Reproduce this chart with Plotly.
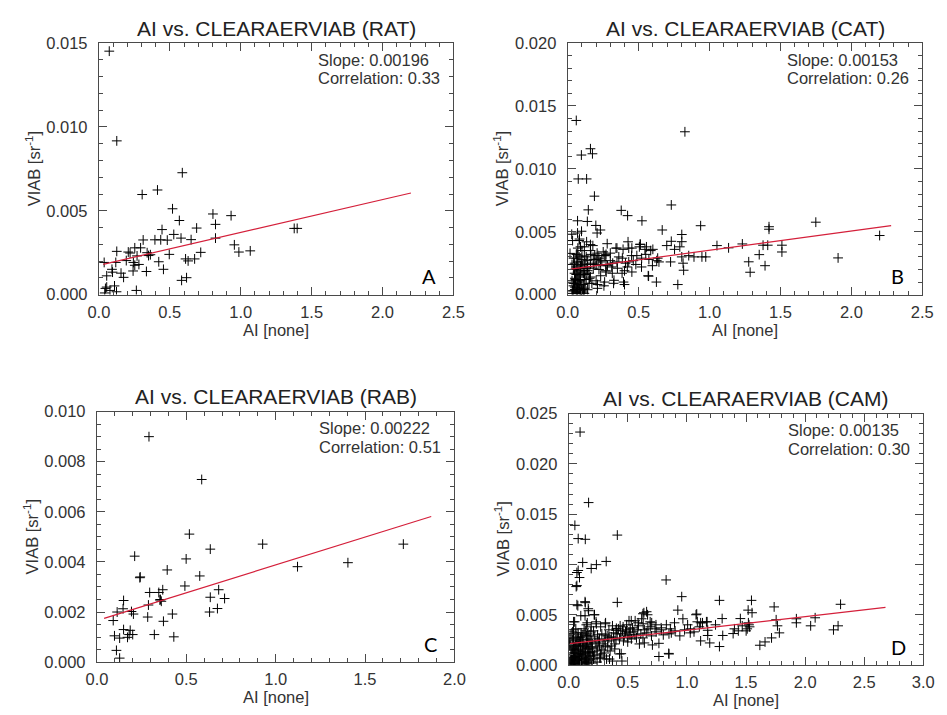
import plotly.graph_objects as go

# ---------------------------------------------------------------------------
# RAT: aerosol index vs. VIAB
rat_ai = [0.073, 0.126, 0.588, 0.413, 0.305, 0.519, 0.804, 0.932, 0.567, 0.822,
          0.689, 0.445, 0.528, 0.579, 0.822, 0.312, 0.395, 0.436, 0.482, 0.650,
          0.253, 0.294, 0.126, 0.220, 0.340, 0.363, 0.269, 0.496, 0.718, 0.955,
          0.987, 1.067, 0.193, 0.119, 0.037, 0.243, 0.282, 0.253, 0.422, 0.611,
          0.629, 0.675, 0.455, 0.092, 0.096, 0.156, 0.174, 0.055, 0.241, 0.335,
          0.583, 0.618, 0.055, 0.110, 0.078, 0.124, 0.264, 0.041, 1.377, 1.398,
          0.046, 0.350, 0.207]
rat_viab = [0.01452, 0.00917, 0.00727, 0.00624, 0.00597, 0.00512, 0.00481, 0.00471, 0.00442, 0.00419,
            0.00397, 0.00388, 0.00359, 0.00337, 0.00337, 0.00326, 0.00327, 0.00327, 0.00325, 0.00328,
            0.00279, 0.00279, 0.00258, 0.00248, 0.00250, 0.00238, 0.00231, 0.00240, 0.00252, 0.00297,
            0.00254, 0.00261, 0.00203, 0.00192, 0.00192, 0.00192, 0.00180, 0.00175, 0.00196, 0.00213,
            0.00201, 0.00213, 0.00151, 0.00151, 0.00134, 0.00128, 0.00103, 0.00112, 0.00141, 0.00138,
            0.00085, 0.00101, 0.00045, 0.00052, 0.00025, 0.00017, 0.00025, 0.00010, 0.00395, 0.00395,
            0.00037, 0.00233, 0.00254]

# CAT
cat_ai = [0.060, 0.826, 0.160, 0.174, 0.096, 0.074, 0.133, 0.188, 0.730, 0.145,
          0.377, 0.422, 0.069, 0.138, 0.198, 0.523, 0.230, 0.666, 0.097, 0.069,
          0.028, 0.207, 0.804, 0.804, 0.083, 0.133, 0.160, 0.090, 0.425, 0.510,
          0.730, 0.505, 0.430, 0.340, 0.390, 0.555, 0.600, 0.698, 0.753, 0.790,
          0.270, 0.207, 0.064, 0.257, 0.487, 0.550, 0.634, 0.643, 0.725, 0.804,
          0.853, 0.890, 0.813, 0.817, 0.041, 0.385, 0.317, 0.430, 0.597, 0.400,
          0.271, 0.570, 0.326, 0.400, 0.625, 0.776, 0.210, 0.260,
          0.937, 0.946, 0.973, 1.052, 1.134, 1.231, 1.276, 1.286, 1.350, 1.377,
          1.410, 1.391, 1.419, 1.419, 1.510, 1.510, 1.749, 1.906, 2.199,
          0.278, 0.347, 0.452, 0.512, 0.544, 0.585, 0.071, 0.117, 0.177, 0.034,
          0.080, 0.016, 0.071, 0.117, 0.163, 0.213, 0.264, 0.300, 0.347, 0.407,
          0.462, 0.521, 0.572, 0.627, 0.048, 0.094, 0.140, 0.186, 0.232, 0.268,
          0.314, 0.383, 0.452, 0.567, 0.048, 0.080, 0.117, 0.154, 0.200, 0.232,
          0.393, 0.323, 0.255, 0.209, 0.140, 0.094, 0.048, 0.071, 0.117, 0.034,
          0.050, 0.060, 0.065, 0.080, 0.085, 0.100, 0.055, 0.070, 0.090, 0.110,
          0.040, 0.060, 0.080, 0.100, 0.120, 0.140, 0.160, 0.180, 0.200, 0.240,
          0.220, 0.150, 0.130, 0.170, 0.120, 0.060, 0.030, 0.100, 0.160, 0.250,
          0.300, 0.360, 0.450, 0.480, 0.520, 0.350, 0.280, 0.420,
          0.03, 0.04, 0.05, 0.06, 0.07, 0.08, 0.09, 0.10, 0.11, 0.12,
          0.04, 0.05, 0.06, 0.07, 0.08, 0.09, 0.10,
          0.03, 0.05, 0.07, 0.09, 0.11, 0.13,
          0.06, 0.08, 0.10, 0.12, 0.14, 0.16, 0.18, 0.20, 0.22,
          0.19, 0.23, 0.27, 0.31, 0.15, 0.11, 0.04, 0.13]
cat_viab = [0.01385, 0.01295, 0.0116, 0.0112, 0.0111, 0.0092, 0.0092, 0.00783, 0.00713, 0.00674,
            0.0067, 0.00628, 0.00587, 0.00582, 0.0055, 0.00587, 0.00514, 0.00514, 0.00504, 0.0049,
            0.0048, 0.0049, 0.00478, 0.00421, 0.00442, 0.0042, 0.00398, 0.0038, 0.0042, 0.0040,
            0.00424, 0.0038, 0.0037, 0.0037, 0.0036, 0.0038, 0.0036, 0.0039, 0.0036, 0.0038,
            0.0032, 0.0033, 0.00323, 0.0031, 0.0031, 0.0032, 0.0029, 0.0026, 0.0026, 0.0030,
            0.0031, 0.0030, 0.0025, 0.00194, 0.0029, 0.0029, 0.0025, 0.0026, 0.0023, 0.0019,
            0.0018, 0.00147, 0.00114, 0.0008, 0.0010, 0.0008, 0.0008, 0.0010,
            0.00548, 0.0030, 0.0030, 0.0039, 0.00372, 0.00403, 0.00261, 0.00178, 0.00318, 0.00393,
            0.00393, 0.0023, 0.0054, 0.0052, 0.00393, 0.00339, 0.00576, 0.00292, 0.0047,
            0.00405, 0.0037, 0.0037, 0.0040, 0.0036, 0.0035, 0.0037, 0.0038, 0.0039, 0.0043,
            0.0043, 0.00328, 0.00308, 0.00308, 0.0032, 0.0031, 0.0031, 0.0027, 0.0026, 0.0025,
            0.0027, 0.0029, 0.0028, 0.0027, 0.0025, 0.0026, 0.0022, 0.0025, 0.0023, 0.0019,
            0.0017, 0.0017, 0.0018, 0.0015, 0.0017, 0.0014, 0.0016, 0.0013, 0.0011, 0.0015,
            0.0010, 0.0009, 0.0007, 0.0005, 0.00039, 0.0007, 0.0009, 0.0002, 0.0001, 0.0003,
            0.0004, 0.0006, 0.0001, 0.0005, 0.0002, 0.0003, 0.0012, 0.0010, 0.0011, 0.0008,
            0.0020, 0.0022, 0.0019, 0.0021, 0.0019, 0.0027, 0.0024, 0.0021, 0.0028, 0.0027,
            0.0020, 0.0017, 0.0012, 0.0009, 0.0005, 0.0029, 0.0024, 0.0035, 0.0035, 0.0034,
            0.0033, 0.0030, 0.0031, 0.0024, 0.0022, 0.0021, 0.0023, 0.0022,
            0.0001, 0.0003, 0.0006, 0.0002, 0.0004, 0.0008, 0.0001, 0.0006, 0.0002, 0.0012,
            0.0009, 0.0013, 0.0016, 0.0018, 0.0011, 0.0015, 0.0024,
            0.0011, 0.0020, 0.0026, 0.0023, 0.0017, 0.0021,
            0.0032, 0.0030, 0.0028, 0.0025, 0.0019, 0.0014, 0.0028, 0.0024, 0.0029,
            0.0031, 0.0026, 0.0024, 0.0022, 0.0009, 0.0004, 0.0007, 0.0030]

# RAB
rab_ai = [0.291, 0.586, 0.517, 0.634, 0.211, 0.499, 0.393, 0.240, 0.242, 0.575,
          0.492, 0.295, 0.346, 0.368, 0.681, 0.634, 0.714, 0.149, 0.355, 0.360,
          0.352, 0.288, 0.146, 0.113, 0.193, 0.204, 0.422, 0.630, 0.674, 0.284,
          0.091, 0.372, 0.149, 0.186, 0.098, 0.127, 0.171, 0.180, 0.200, 0.321,
          0.430, 0.109, 0.127, 0.927, 1.122, 1.404, 1.714]
rab_viab = [0.0090, 0.00729, 0.00511, 0.00451, 0.00423, 0.00412, 0.00368, 0.00337, 0.00340, 0.00344,
            0.00304, 0.00278, 0.00278, 0.00289, 0.00289, 0.00259, 0.00254, 0.00246, 0.00250, 0.00243,
            0.00248, 0.00228, 0.00213, 0.00200, 0.00202, 0.00192, 0.00192, 0.00200, 0.00214, 0.00180,
            0.00166, 0.00163, 0.00130, 0.00127, 0.00105, 0.00096, 0.00099, 0.00110, 0.00110, 0.00110,
            0.00101, 0.00047, 0.00016, 0.00471, 0.00381, 0.00397, 0.00471]

# CAM
cam_ai = [0.096, 0.168, 0.052, 0.411, 0.080, 0.140, 0.317, 0.118, 0.234, 0.190,
          0.080, 0.069, 0.091, 0.069, 0.824, 0.063, 0.956, 0.411, 0.069, 0.140,
          0.102, 0.168, 0.218, 0.923, 0.659, 0.636, 1.077, 0.966, 0.041, 0.157,
          0.234, 0.312, 0.510, 0.587, 0.702, 0.895, 1.006, 1.116, 1.171, 0.400,
          0.455, 0.510, 0.785, 0.868, 1.028, 1.116, 0.763, 0.708, 0.598, 0.499,
          0.444, 0.345, 0.763, 0.846, 0.262,
          1.083, 1.088, 1.105, 1.165, 1.132, 1.176, 1.176, 1.193, 1.242, 1.275,
          1.298, 1.303, 1.275, 1.391, 1.402, 1.435, 1.452, 1.468, 1.501, 1.510,
          1.520, 1.530, 1.525, 1.518, 1.546, 1.551, 1.617, 1.661, 1.716, 1.738,
          1.755, 1.766, 1.782, 1.926, 1.926, 2.047, 2.085, 2.240, 2.279, 2.300,
          0.077, 0.138, 0.165, 0.050, 0.138, 0.215, 0.231, 0.149, 0.309, 0.403,
          0.435, 0.490, 0.529, 0.562, 0.617, 0.628, 0.667, 0.689, 0.738, 0.782,
          0.826, 0.848, 0.848, 0.033, 0.105, 0.187, 0.243, 0.325, 0.380, 0.463,
          0.518, 0.573, 0.656, 0.628,
          0.03, 0.07, 0.12, 0.19, 0.24, 0.29, 0.35, 0.43, 0.07, 0.12,
          0.17, 0.03, 0.08, 0.13, 0.21, 0.27, 0.32, 0.37, 0.45, 0.02,
          0.04, 0.05, 0.06, 0.09, 0.10, 0.11, 0.14, 0.15, 0.16, 0.18,
          0.20, 0.22, 0.23, 0.26, 0.28, 0.30, 0.33, 0.36, 0.39, 0.41,
          0.47, 0.53, 0.55, 0.58, 0.61, 0.64, 0.67, 0.70, 0.74, 0.80,
          0.86, 0.90, 0.94, 0.98, 1.03, 1.06, 0.01, 0.04, 0.06, 0.08,
          0.11, 0.13, 0.17, 0.19, 0.21, 0.27, 0.34, 0.37, 0.42, 0.46,
          0.49, 0.54, 0.59, 0.63, 0.03, 0.05, 0.07, 0.09, 0.10, 0.12,
          0.14, 0.02, 0.01, 0.04, 0.06, 0.08, 0.15, 0.18, 0.20, 0.24,
          0.26, 0.30, 0.31, 0.39, 0.43, 0.50, 0.56, 0.64, 0.69, 0.73,
          0.01, 0.02, 0.03, 0.04, 0.05, 0.06, 0.07, 0.08, 0.09, 0.10,
          0.11, 0.12, 0.13, 0.14, 0.15, 0.16, 0.17, 0.18, 0.19, 0.20,
          0.01, 0.02, 0.03, 0.04, 0.05, 0.06, 0.07, 0.08, 0.09, 0.10,
          0.11, 0.12, 0.13, 0.14, 0.15, 0.16, 0.17, 0.18, 0.19, 0.20,
          0.02, 0.04, 0.06, 0.08, 0.10, 0.12, 0.14, 0.16, 0.22, 0.25,
          0.28, 0.31, 0.34, 0.02, 0.05, 0.08, 0.11, 0.14, 0.17, 0.21,
          0.24, 0.27, 0.30, 0.33, 0.36, 0.38, 0.40, 0.44, 0.48, 0.52]
cam_viab = [0.02316, 0.01615, 0.01389, 0.01292, 0.01257, 0.0125, 0.0103, 0.0102, 0.00998, 0.0096,
            0.0094, 0.0092, 0.0087, 0.0079, 0.00846, 0.0078, 0.0068, 0.00623, 0.0060, 0.0062,
            0.0049, 0.0054, 0.0050, 0.00546, 0.0053, 0.0052, 0.0050, 0.0046, 0.0043, 0.0042,
            0.0041, 0.0042, 0.0044, 0.0042, 0.0042, 0.0042, 0.0040, 0.0042, 0.0043, 0.00346,
            0.0034, 0.0032, 0.0035, 0.0032, 0.0032, 0.0024, 0.00216, 0.0020, 0.0021, 0.0023,
            0.00113, 0.0006, 0.00085, 0.00116, 0.0007,
            0.00507, 0.0043, 0.0038, 0.0043, 0.0042, 0.00346, 0.00294, 0.0022, 0.0040, 0.00643,
            0.00462, 0.00294, 0.00184, 0.00313, 0.0036, 0.0034, 0.00462, 0.0039, 0.0034, 0.0036,
            0.0042, 0.0038, 0.0040, 0.00546, 0.00643, 0.0052, 0.00197, 0.0023, 0.0027, 0.00578,
            0.0045, 0.0039, 0.0032, 0.0042, 0.0046, 0.0039, 0.0047, 0.0035, 0.0039, 0.00604,
            0.0059, 0.0063, 0.0056, 0.0043, 0.0049, 0.0050, 0.0043, 0.0040, 0.0041, 0.00365,
            0.0039, 0.0040, 0.0044, 0.0044, 0.0046, 0.0051, 0.0050, 0.0043, 0.0040, 0.0037,
            0.0040, 0.0031, 0.0011, 0.0033, 0.0032, 0.0033, 0.0030, 0.0029, 0.0027, 0.0024,
            0.0030, 0.0027, 0.0032, 0.0027,
            0.0024, 0.0021, 0.0017, 0.0024, 0.0017, 0.0021, 0.0014, 0.0011, 0.0014, 0.0011,
            0.0007, 0.0004, 0.0001, 0.0003, 0.0006, 0.0011, 0.0006, 0.0004, 0.0004, 0.0015,
            0.0008, 0.0018, 0.0005, 0.0009, 0.0019, 0.0004, 0.0013, 0.0020, 0.0003, 0.0012,
            0.0016, 0.0010, 0.0022, 0.0026, 0.0015, 0.0025, 0.0018, 0.0028, 0.0021, 0.0031,
            0.0029, 0.0026, 0.0033, 0.0035, 0.0031, 0.0035, 0.0036, 0.0029, 0.0033, 0.0030,
            0.0036, 0.0034, 0.0029, 0.0035, 0.0036, 0.0033, 0.0027, 0.0030, 0.0036, 0.0027,
            0.0028, 0.0036, 0.0029, 0.0038, 0.0034, 0.0038, 0.0035, 0.0039, 0.0036, 0.0038,
            0.0035, 0.0037, 0.0039, 0.0041, 0.0012, 0.0002, 0.0008, 0.0003, 0.0013, 0.0021,
            0.0006, 0.0006, 0.0019, 0.0016, 0.0025, 0.0019, 0.0025, 0.0018, 0.0002, 0.0003,
            0.0019, 0.0012, 0.0030, 0.0016, 0.0026, 0.0027, 0.0030, 0.0022, 0.0038, 0.0036,
            0.0003, 0.0010, 0.0007, 0.0002, 0.0012, 0.0009, 0.0004, 0.0015, 0.0006, 0.0002,
            0.0011, 0.0014, 0.0008, 0.0018, 0.0005, 0.0012, 0.0016, 0.0009, 0.0004, 0.0013,
            0.0022, 0.0005, 0.0017, 0.0026, 0.0008, 0.0015, 0.0028, 0.0011, 0.0023, 0.0016,
            0.0007, 0.0025, 0.0019, 0.0010, 0.0029, 0.0022, 0.0013, 0.0026, 0.0018, 0.0021,
            0.0031, 0.0035, 0.0020, 0.0032, 0.0027, 0.0030, 0.0034, 0.0031, 0.0028, 0.0023,
            0.0031, 0.0019, 0.0027, 0.0001, 0.0001, 0.0006, 0.0002, 0.0001, 0.0002, 0.0009,
            0.0014, 0.0007, 0.0009, 0.0024, 0.0019, 0.0032, 0.0025, 0.0031, 0.0033, 0.0036]

# Linear fits (slope, intercept, AI span of the drawn line) and correlations
panel_names = ["RAT", "CAT", "RAB", "CAM"]
panel_letters = ["A", "B", "C", "D"]
fit_slopes = [0.00196, 0.00153, 0.00222, 0.00135]
fit_intercepts = [0.00175, 0.00200, 0.00166, 0.00212]
fit_ai_start = [0.03, 0.02, 0.04, 0.01]
fit_ai_end = [2.20, 2.28, 1.87, 2.68]
correlations = [0.33, 0.26, 0.51, 0.30]

# Axis ranges and tick spacing
x_max = [2.5, 2.5, 2.0, 3.0]
y_max = [0.015, 0.020, 0.010, 0.025]
y_major = [0.005, 0.005, 0.002, 0.005]
y_minor = [0.001, 0.001, 0.0005, 0.001]

ai_data = [rat_ai, cat_ai, rab_ai, cam_ai]
viab_data = [rat_viab, cat_viab, rab_viab, cam_viab]

# ---------------------------------------------------------------------------
W, H = 947, 715
# plot boxes in pixels: left, right, top, bottom
boxes = [(90, 453, 35, 293), (570, 933, 35, 293),
         (88, 454, 413, 670), (571, 934, 415, 673)]

FONT = "Liberation Sans, Arial, Helvetica, sans-serif"
AXCOL = "#4a4a4a"
TXTCOL = "#333333"


def fx(px):
    return px / W


def fy(py):
    return 1 - py / H


fig = go.Figure()
annotations = []
layout_axes = {}

for i in range(4):
    n = i + 1
    xa, ya = f"x{n}" if n > 1 else "x", f"y{n}" if n > 1 else "y"
    left, right, top, bottom = boxes[i]

    fig.add_trace(go.Scatter(
        x=ai_data[i], y=viab_data[i], mode="markers",
        marker=dict(symbol="cross-thin", size=7,
                    line=dict(width=1, color="black"), color="black"),
        xaxis=xa, yaxis=ya, showlegend=False, hoverinfo="x+y"))

    xs = [fit_ai_start[i], fit_ai_end[i]]
    ys = [fit_intercepts[i] + fit_slopes[i] * v for v in xs]
    fig.add_trace(go.Scatter(
        x=xs, y=ys, mode="lines", line=dict(color="#d41f3a", width=1.2),
        xaxis=xa, yaxis=ya, showlegend=False, hoverinfo="skip"))

    common = dict(
        ticks="inside", ticklen=8, tickwidth=1, tickcolor=AXCOL,
        showline=True, linecolor=AXCOL, linewidth=1.2, mirror="allticks",
        showgrid=False, zeroline=False, fixedrange=True,
        tickfont=dict(family=FONT, size=16.5, color=TXTCOL),
    )
    layout_axes["xaxis" + ("" if n == 1 else str(n))] = dict(
        domain=[fx(left), fx(right)], range=[0, x_max[i]],
        anchor=ya, tick0=0, dtick=0.5, tickformat=".1f",
        ticklabelstandoff=2,
        minor=dict(dtick=0.1, ticks="inside", ticklen=4, tickcolor=AXCOL,
                   showgrid=False),
        **common)
    layout_axes["yaxis" + ("" if n == 1 else str(n))] = dict(
        domain=[fy(bottom), fy(top)], range=[0, y_max[i]],
        anchor=xa, tick0=0, dtick=y_major[i], tickformat=".3f",
        ticklabelstandoff=7,
        minor=dict(dtick=y_minor[i], ticks="inside", ticklen=4,
                   tickcolor=AXCOL, showgrid=False),
        **common)

    cx = (left + right) / 2
    cy = (top + bottom) / 2
    # panel title
    annotations.append(dict(
        text=f"AI vs. CLEARAERVIAB ({panel_names[i]})",
        x=fx(cx), y=fy(top - 15), xref="paper", yref="paper",
        xanchor="center", yanchor="middle", showarrow=False,
        font=dict(family=FONT, size=21, color="#222222")))
    # axis titles
    annotations.append(dict(
        text="AI [none]", x=fx(cx), y=fy(bottom + 36), xref="paper",
        yref="paper", xanchor="center", yanchor="middle", showarrow=False,
        font=dict(family=FONT, size=16.5, color=TXTCOL)))
    annotations.append(dict(
        text="VIAB [sr<sup>-1</sup>]", x=fx(left - 68), y=fy(cy),
        xref="paper", yref="paper", xanchor="center", yanchor="middle",
        textangle=-90, showarrow=False,
        font=dict(family=FONT, size=16.5, color=TXTCOL)))
    # fit statistics
    annotations.append(dict(
        text=f"Slope: {fit_slopes[i]:.5f}", x=fx(right - 141),
        y=fy(top + 17), xref="paper", yref="paper", xanchor="left",
        yanchor="middle", showarrow=False,
        font=dict(family=FONT, size=16.5, color=TXTCOL)))
    annotations.append(dict(
        text=f"Correlation: {correlations[i]:.2f}", x=fx(right - 141),
        y=fy(top + 36), xref="paper", yref="paper", xanchor="left",
        yanchor="middle", showarrow=False,
        font=dict(family=FONT, size=16.5, color=TXTCOL)))
    # panel letter
    annotations.append(dict(
        text=panel_letters[i], x=fx(right - 25), y=fy(bottom - 19),
        xref="paper", yref="paper", xanchor="center", yanchor="middle",
        showarrow=False,
        font=dict(family="Lato, Open Sans, sans-serif", size=20,
                  color="black")))

fig.update_layout(
    width=W, height=H, margin=dict(l=0, r=0, t=0, b=0),
    paper_bgcolor="white", plot_bgcolor="white",
    annotations=annotations, **layout_axes)

fig.write_html("out.html")
